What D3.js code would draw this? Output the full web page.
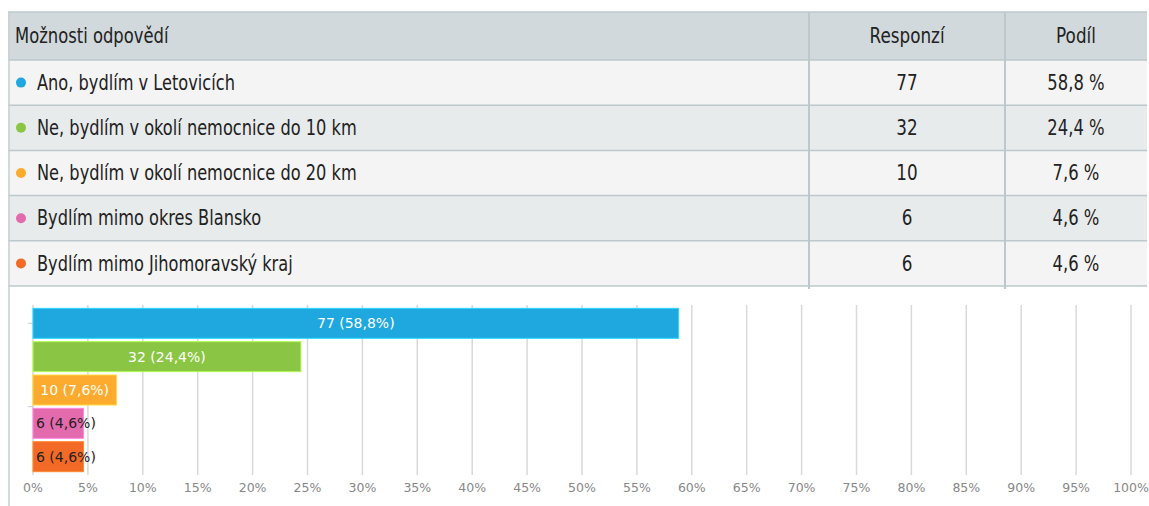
<!DOCTYPE html>
<html>
<head>
<meta charset="utf-8">
<script src="https://cdn.jsdelivr.net/npm/d3@7"></script>
<style>
  html, body { margin: 0; padding: 0; background: #fff; }
  svg { display: block; }
</style>
</head>
<body>
<svg id="chart" width="1149" height="506"></svg>
<script>
// Survey answers
const categories = [
  "Ano, bydlím v Letovicích",
  "Ne, bydlím v okolí nemocnice do 10 km",
  "Ne, bydlím v okolí nemocnice do 20 km",
  "Bydlím mimo okres Blansko",
  "Bydlím mimo Jihomoravský kraj"
];
const responses = [77, 32, 10, 6, 6];
const shares = [58.8, 24.4, 7.6, 4.6, 4.6];
const colors = ["#1fa8e0", "#8ac543", "#fdab2e", "#e46aae", "#f26a26"];
const headers = ["Možnosti odpovědí", "Responzí", "Podíl"];
const xTicks = d3.range(0, 101, 5);

const svg = d3.select("#chart");
const tableFont = "'DejaVu Sans', sans-serif";
const chartFont = "'DejaVu Sans', sans-serif";
const fmt = v => String(v).replace(".", ",");

// ---- table ----
const tLeft = 8, tRight = 1147, tTop = 12, headH = 48, rowH = 45.2;
const col1 = 809, col2 = 1005;
const rowY = d3.scaleBand().domain(d3.range(categories.length))
  .range([tTop + headH, tTop + headH + rowH * categories.length]);

const table = svg.append("g");
table.append("rect").attr("x", tLeft).attr("y", tTop)
  .attr("width", tRight - tLeft).attr("height", headH).attr("fill", "#d1d9dc");

table.selectAll("rect.row").data(categories).join("rect")
  .attr("class", "row")
  .attr("x", tLeft).attr("y", (d, i) => rowY(i))
  .attr("width", tRight - tLeft).attr("height", rowY.bandwidth())
  .attr("fill", (d, i) => i % 2 === 0 ? "#f4f4f4" : "#e8ebec");

const lineColor = "#bcc8cc";
const tBottom = rowY.range()[1];
// horizontal rules
table.selectAll("line.h").data([tTop, ...d3.range(categories.length).map(i => rowY(i)), tBottom]).join("line")
  .attr("x1", tLeft).attr("x2", tRight).attr("y1", d => d).attr("y2", d => d)
  .attr("stroke", lineColor).attr("stroke-width", 1.5);
// vertical rules
table.selectAll("line.v").data([col1, col2]).join("line")
  .attr("x1", d => d).attr("x2", d => d).attr("y1", tTop).attr("y2", tBottom + 3)
  .attr("stroke", lineColor).attr("stroke-width", 2);
table.append("line").attr("x1", tLeft + 1).attr("x2", tLeft + 1)
  .attr("y1", tTop).attr("y2", 506).attr("stroke", "#c8d0d3").attr("stroke-width", 1.5);

// narrow table lettering: regular face squeezed horizontally
const txt = (g, x, y, s, anchor, sx = 0.79) => g.append("text")
  .attr("transform", `translate(${x},${y}) scale(${sx},1)`)
  .attr("text-anchor", anchor).attr("dominant-baseline", "central")
  .attr("font-family", tableFont).attr("font-size", 20.5).attr("fill", "#222").text(s);

txt(table, 15, tTop + headH / 2, headers[0], "start", 0.8);
txt(table, (col1 + col2) / 2, tTop + headH / 2, headers[1], "middle", 0.82);
txt(table, (col2 + tRight) / 2, tTop + headH / 2, headers[2], "middle", 0.82);

categories.forEach((c, i) => {
  const cy = rowY(i) + rowY.bandwidth() / 2;
  table.append("circle").attr("cx", 21).attr("cy", cy).attr("r", 5).attr("fill", colors[i]);
  txt(table, 37, cy, c, "start");
  txt(table, (col1 + col2) / 2, cy, responses[i], "middle", 0.82);
  txt(table, (col2 + tRight) / 2, cy, fmt(shares[i]) + " %", "middle", 0.8);
});

// ---- bar chart ----
const x = d3.scaleLinear().domain([0, 100]).range([33, 1131]);
const y = d3.scaleBand().domain(categories).range([305, 475]).paddingInner(0.1).paddingOuter(0.1);

const chart = svg.append("g");
chart.selectAll("line.grid").data(xTicks).join("line")
  .attr("x1", d => x(d)).attr("x2", d => x(d))
  .attr("y1", 305).attr("y2", 475)
  .attr("stroke", "#d9d9d9").attr("stroke-width", 1.5);

// category axis ticks
chart.selectAll("line.ytick").data([y(categories[0]) + y.bandwidth() / 2, y(categories[3]) - y.step() * y.paddingInner() / 2]).join("line")
  .attr("x1", x(0) - 5).attr("x2", x(0)).attr("y1", d => d).attr("y2", d => d)
  .attr("stroke", "#c8c8c8").attr("stroke-width", 1);

chart.selectAll("rect.bar").data(categories).join("rect")
  .attr("class", "bar")
  .attr("x", x(0)).attr("y", d => y(d))
  .attr("width", (d, i) => x(shares[i]) - x(0)).attr("height", y.bandwidth())
  .attr("fill", (d, i) => colors[i])
  .attr("stroke", (d, i) => d3.color(colors[i]).brighter(0.7))
  .attr("stroke-width", 1);

chart.selectAll("text.val").data(categories).join("text")
  .attr("class", "val")
  .each(function (d, i) {
    const label = `${responses[i]} (${fmt(shares[i])}%)`;
    const w = x(shares[i]) - x(0);
    const fits = w > label.length * 8.2 + 4;
    d3.select(this)
      .attr("x", fits ? x(0) + w / 2 : x(0) + 3)
      .attr("text-anchor", fits ? "middle" : "start")
      .attr("fill", fits ? "#fff" : "#222")
      .text(label);
  })
  .attr("y", d => y(d) + y.bandwidth() / 2)
  .attr("dominant-baseline", "central")
  .attr("font-family", chartFont).attr("font-size", 14);

chart.selectAll("text.xt").data(xTicks).join("text")
  .attr("x", d => x(d)).attr("y", 487)
  .attr("text-anchor", "middle").attr("dominant-baseline", "central")
  .attr("font-family", chartFont).attr("font-size", 12.5).attr("fill", "#888")
  .text(d => d + "%");
</script>
</body>
</html>
